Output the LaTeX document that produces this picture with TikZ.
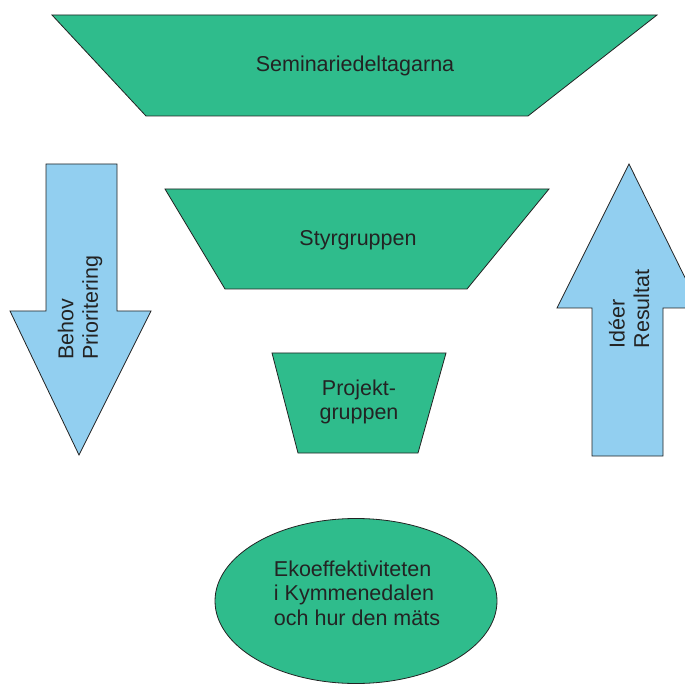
\documentclass[tikz,border=0pt]{standalone}
\usepackage{fontspec}
\setmainfont{Liberation Sans}
\usetikzlibrary{shapes.geometric}
\definecolor{orggreen}{RGB}{47,188,140}
\definecolor{flowblue}{RGB}{146,207,240}
\definecolor{inkgray}{RGB}{35,35,35}
\begin{document}
\begin{tikzpicture}[x=1pt,y=-1pt,
  level/.style={draw=inkgray,line width=0.8pt,fill=orggreen,line join=miter},
  flow/.style={draw=inkgray,line width=0.8pt,fill=flowblue,line join=miter},
  label/.style={text=inkgray,font=\fontsize{21.5}{24.5}\selectfont,inner sep=0pt,align=center}]
\useasboundingbox (0,0) rectangle (685,684);
\clip (0,0) rectangle (685,684);

% organisation levels
\draw[level] (52,15) -- (657,15) -- (528,116) -- (146,116) -- cycle;
\node[label] (seminar) at (355,66) {Seminariedeltagarna};

\draw[level] (165,189) -- (549,189) -- (467,289) -- (225,289) -- cycle;
\node[label] (styr) at (358,240) {Styrgruppen};

\draw[level] (272,353) -- (446,353) -- (418,453) -- (298,453) -- cycle;
\node[label] (projekt) at (359,402) {Projekt-\\gruppen};

\node[level,ellipse,minimum width=282pt,minimum height=165pt,inner sep=0pt] (eko) at (356,601) {};
\node[label,align=left] (ekotext) at (357,593) {Ekoeffektiviteten\\i Kymmenedalen\\och hur den mäts};

% downward flow
\draw[flow] (46,164) -- (117,164) -- (117,311) -- (151,311) -- (79,455)
  -- (10,311) -- (46,311) -- cycle;
\node[label,align=left,rotate=90] (behov) at (80,308) {Behov\\Prioritering};

% upward flow
\draw[flow] (592,456) -- (663,456) -- (663,308) -- (700,308) -- (629,164)
  -- (557,308) -- (592,308) -- cycle;
\node[label,align=left,rotate=90] (ideer) at (629,309) {Idéer\\Resultat};
\end{tikzpicture}
\end{document}
